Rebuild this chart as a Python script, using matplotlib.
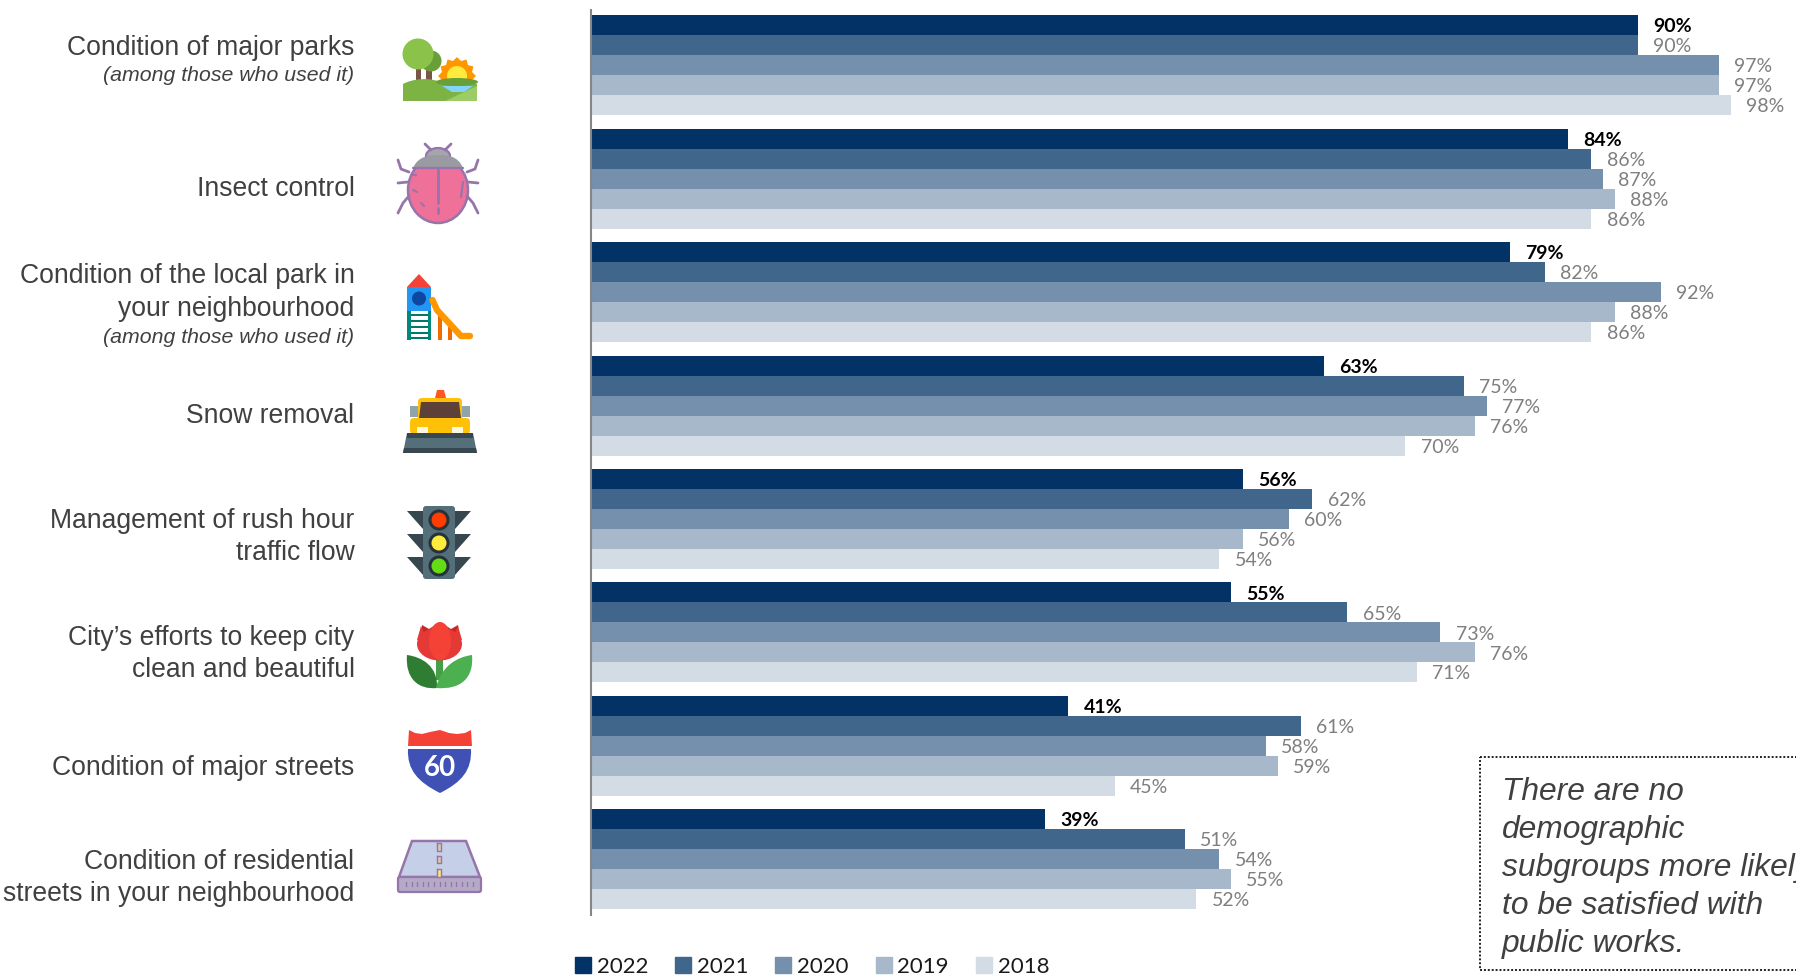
import matplotlib
matplotlib.use('Agg')
import matplotlib.pyplot as plt
from matplotlib.patches import Polygon, Circle, Ellipse, Rectangle, FancyBboxPatch, PathPatch, Patch
from matplotlib.path import Path
import numpy as np

years = ['2022', '2021', '2020', '2019', '2018']
colors = ['#033266', '#41668C', '#7490AD', '#A7B8CB', '#D3DBE5']

v2022 = [90, 84, 79, 63, 56, 55, 41, 39]
v2021 = [90, 86, 82, 75, 62, 65, 61, 51]
v2020 = [97, 87, 92, 77, 60, 73, 58, 54]
v2019 = [97, 88, 88, 76, 56, 76, 59, 55]
v2018 = [98, 86, 86, 70, 54, 71, 45, 52]
series = [v2022, v2021, v2020, v2019, v2018]

# text, baseline in px, italic
row_labels = [
    ('Condition of major parks', 55, False),
    ('(among those who used it)', 81, True),
    ('Insect control', 196, False),
    ('Condition of the local park in', 283, False),
    ('your neighbourhood', 316, False),
    ('(among those who used it)', 343, True),
    ('Snow removal', 423, False),
    ('Management of rush hour', 528, False),
    ('traffic flow', 560, False),
    ('City\u2019s efforts to keep city', 645, False),
    ('clean and beautiful', 677, False),
    ('Condition of major streets', 775, False),
    ('Condition of residential', 869, False),
    ('streets in your neighbourhood', 901, False),
]
note = 'There are no\ndemographic\nsubgroups more likely\nto be satisfied with\npublic works.'

W, H = 1796, 980
px_per_pct = 11.62
group_px = 113.4
bar_px = 20.0
first_center = 65.5
bar_left = 592

fig = plt.figure(figsize=(W / 100, H / 100), dpi=100, facecolor='white')

ax = fig.add_axes([bar_left / W, 0, 1 - bar_left / W, 1])
ax.set_xlim(0, (W - bar_left) / px_per_pct)
ax.set_ylim((H - first_center) / group_px, -first_center / group_px)
ax.axis('off')

y = np.arange(len(v2022))
h = bar_px / group_px
handles = []
for i, vals in enumerate(series):
    bars = ax.barh(y + (i - 2) * h, vals, height=h, color=colors[i], linewidth=0)
    if i == 0:
        labs = ax.bar_label(bars, labels=[f'{v}%' for v in vals], padding=11, color='black',
                            fontsize=14, fontweight='bold', family='Lato')
    else:
        labs = ax.bar_label(bars, labels=[f'{v}%' for v in vals], padding=11, color='#7F7F7F',
                            fontsize=14, family='Lato')
    for lab in labs:
        lab.set_va('center_baseline')
    handles.append(Patch(color=colors[i], label=years[i]))

fig.legend(handles=handles, ncols=5, frameon=False, loc='lower left',
           bbox_to_anchor=(555 / W, -17 / H), prop={'family': 'Lato', 'size': 16},
           handlelength=0.72, handleheight=0.72, handletextpad=0.27, columnspacing=1.2,
           labelcolor='#1A1A1A')

# overlay in image pixels for the text, axis line and icons
ov = fig.add_axes([0, 0, 1, 1], facecolor='none')
ov.set_xlim(0, W)
ov.set_ylim(H, 0)
ov.axis('off')

ov.plot([590.8, 590.8], [9, 916], color='#868686', lw=1.5, solid_capstyle='butt')

for text, base, italic in row_labels:
    ov.text(354.5, base, text, ha='right', va='baseline', color='#404040', family='Liberation Sans',
            fontsize=15.3 if italic else 19.1, style='italic' if italic else 'normal')

ov.add_patch(Rectangle((1479.5, 757), 400, 213, fill=False, ec='#222222', lw=1.4, ls=(0, (1, 1))))
ov.text(1502, 952, note, ha='left', va='baseline', color='#404040', family='Liberation Sans',
        fontsize=22.9, style='italic', linespacing=1.35, clip_on=True)


def poly(pts, c, **kw):
    ov.add_patch(Polygon(pts, closed=True, fc=c, ec=kw.pop('ec', 'none'), **kw))


def circ(x, y, r, c, **kw):
    ov.add_patch(Circle((x, y), r, fc=c, ec=kw.pop('ec', 'none'), **kw))


def rect(x0, y0, x1, y1, c):
    ov.add_patch(Rectangle((x0, y0), x1 - x0, y1 - y0, fc=c, ec='none'))


def rrect(x0, y0, x1, y1, c, r=3, **kw):
    ov.add_patch(FancyBboxPatch((x0 + r, y0 + r), x1 - x0 - 2 * r, y1 - y0 - 2 * r,
                                boxstyle=f'round,pad={r}', fc=c, ec=kw.pop('ec', 'none'), **kw))


def line(xs, ys, c, w=2.0):
    ov.plot(xs, ys, color=c, lw=w, solid_capstyle='round')


def curve(pts, c):
    # start point followed by cubic bezier triples
    codes = [Path.MOVETO] + [Path.CURVE4] * (len(pts) - 1)
    ov.add_patch(PathPatch(Path(pts, codes), fc=c, ec='none'))


# park
rect(416, 68, 421, 82, '#795548')
rect(426, 68, 432, 82, '#795548')
circ(431, 61, 10.5, '#689F38')
circ(418, 54, 15.5, '#8BC34A')
ang = np.linspace(0, 2 * np.pi, 25)[:-1]
rad = np.where(np.arange(24) % 2 == 0, 19, 15.5)
poly(np.c_[457 + rad * np.cos(ang), 76 + rad * np.sin(ang)], '#FF9800')
circ(457, 76, 10, '#FFEB3B')
curve([(403, 101), (403, 92), (403, 88), (403, 84), (412, 79), (430, 76), (445, 84),
       (455, 84), (466, 84), (477, 84), (477, 90), (477, 95), (477, 101),
       (452, 101), (428, 101), (403, 101)], '#7CB342')
poly([(445, 101), (477, 86), (477, 101)], '#9CCC65')
ov.add_patch(Ellipse((457, 82), 42, 8, fc='#689F38', ec='none'))
poly([(442, 86), (473, 86), (464, 92), (452, 92)], '#81D4FA')

# bug
pur = '#9575AA'
for sx in (-1, 1):
    line([438 + sx * 29, 438 + sx * 37, 438 + sx * 40], [172, 169, 160], pur)
    line([438 + sx * 30, 438 + sx * 40], [182, 183], pur)
    line([438 + sx * 29, 438 + sx * 35, 438 + sx * 40], [196, 203, 213], pur)
    line([438 + sx * 7, 438 + sx * 13], [150, 144], pur)
ov.add_patch(Ellipse((438, 156), 24, 16, fc='#A5A5AE', ec=pur, lw=1.6))
ov.add_patch(Ellipse((438, 190), 60, 66, fc='#EF7098', ec=pur, lw=1.8))
curve([(413, 168), (418, 156), (430, 155), (438, 155), (448, 155), (458, 156), (463, 168),
       (447, 168), (430, 168), (413, 168)], '#9A9AA2')
line([413, 463], [168.5, 168.5], pur, 1.6)
line([438, 438], [169, 203], pur)
line([438, 438], [208, 213], pur)
line([413, 416], [175, 175], pur, 1.5)
line([413, 417], [190, 192], pur, 1.5)
line([421, 424], [203, 206], pur, 1.5)
line([463, 461], [182, 197], pur, 1.5)

# playground
poly([(407, 287), (419, 274), (431, 287)], '#F44336')
rect(407, 287, 431, 311, '#2196F3')
circ(419, 298.5, 7, '#0D47A1')
rect(407, 311, 410.5, 340, '#00897B')
rect(427.5, 311, 431, 340, '#00897B')
for ly in (314, 320, 326, 332, 337):
    rect(410.5, ly, 427.5, ly + 2.4, '#00796B')
rect(438, 315, 442, 340, '#EF6C00')
rect(448, 327, 452, 340, '#EF6C00')
line([432.5, 437, 461, 470], [300, 310, 336, 336], '#FF9800', 4.6)

# plow
rect(410, 406, 418, 417, '#90A4AE')
rect(462, 406, 470, 417, '#90A4AE')
poly([(435, 398), (437, 390), (444, 390), (446, 398)], '#FF5722')
rrect(418, 398, 462, 424, '#FFC107', r=4)
rrect(410, 418, 470, 434, '#FFC107', r=4)
poly([(421, 402), (459, 402), (461, 418), (419, 418)], '#5D4037')
rect(417, 427, 428, 433, '#FFF8E1')
rect(452, 427, 463, 433, '#FFF8E1')
poly([(407, 433), (473, 433), (477, 453), (403, 453)], '#546E7A')
rect(407, 433, 473, 438, '#37474F')
poly([(404, 448), (476, 448), (477, 453), (403, 453)], '#37474F')

# traffic light
for fy in (511, 534, 557):
    poly([(407, fy), (423, fy), (423, fy + 18)], '#37474F')
    poly([(471, fy), (455, fy), (455, fy + 18)], '#37474F')
rrect(423, 506, 455, 579, '#546E7A', r=3)
for ly, c in zip((520, 543, 566), ('#FF3D00', '#FFEB3B', '#64DD17')):
    circ(439, ly, 10.5, '#263238')
    circ(439, ly, 7.5, c)

# tulip
rect(436, 655, 443, 680, '#43A047')
curve([(407, 655), (422, 657), (438, 666), (437, 688), (418, 690), (405, 678), (407, 655)], '#2E7D32')
curve([(472, 655), (457, 657), (441, 666), (436, 688), (461, 690), (474, 678), (472, 655)], '#4CAF50')
poly([(420, 640), (422, 625), (429, 629), (440, 622), (451, 629), (458, 625), (460, 640)], '#C62828')
ov.add_patch(Ellipse((439.5, 644), 45, 33, fc='#E53935', ec='none'))
poly([(417, 640), (421, 626), (427, 640)], '#E53935')
poly([(462, 640), (458, 626), (452, 640)], '#E53935')
ov.add_patch(Ellipse((440, 641), 22, 38, fc='#F44336', ec='none'))

# highway shield
poly([(409, 730), (415, 733), (422, 734), (430, 732), (440, 730), (449, 733), (457, 734),
      (465, 733), (471, 730), (472, 746), (408, 746)], '#F44336')
curve([(408, 749), (429, 749), (450, 749), (471, 749), (472, 770), (462, 782), (440, 793),
       (418, 782), (407, 770), (408, 749)], '#3F51B5')
ov.text(440, 768, '60', ha='center', va='center', color='white', family='Lato',
        fontsize=20, fontweight='bold')

# road
poly([(412, 841), (466, 841), (480, 877), (399, 877)], '#C5CFE8', ec=pur, lw=1.8)
rrect(398, 877, 481, 892, '#B5A9C8', r=2, ec=pur, lw=1.6)
for ry0, ry1 in ((843, 851), (856, 863), (869, 877)):
    rect(437, ry0, 441, ry1, '#FFE082' if ry0 == 869 else '#D8C9A8')
    ov.plot([437, 437, 441, 441, 437], [ry0, ry1, ry1, ry0, ry0], color=pur, lw=1)
for rx in np.linspace(406, 473, 13):
    line([rx, rx], [882, 886], pur, 1)

fig.savefig('out.png', dpi=100)
